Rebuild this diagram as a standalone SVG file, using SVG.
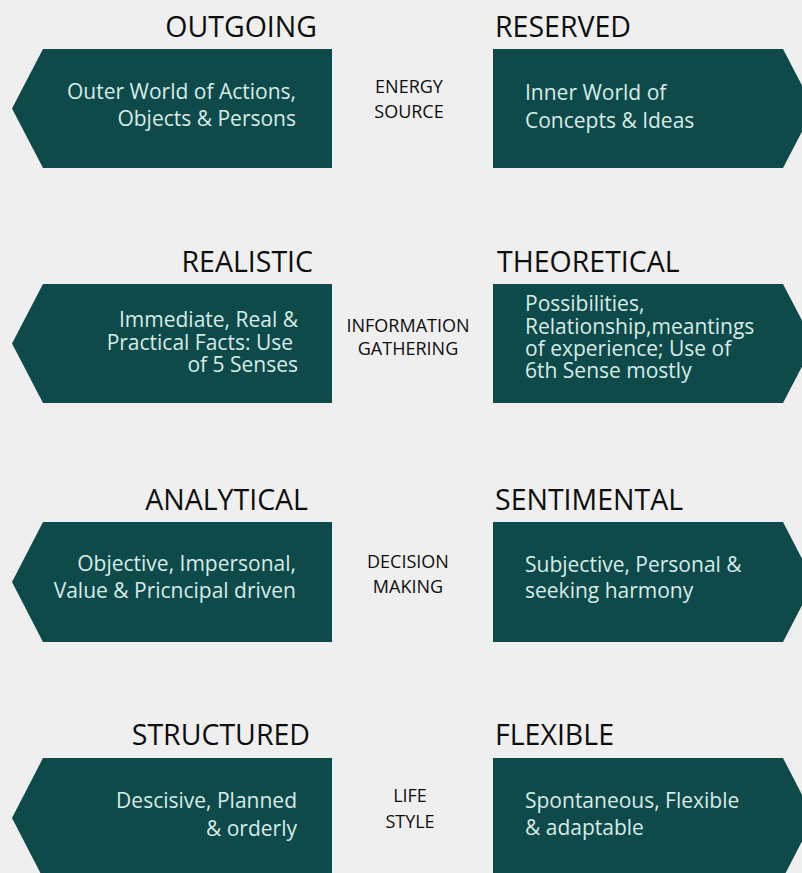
<svg xmlns="http://www.w3.org/2000/svg" width="802" height="873" viewBox="0 0 802 873">
  <style>
    .box { fill: #0e4a4a; }
    .title { font-family: "Open Sans", "Liberation Sans", sans-serif; font-size: 28.5px; fill: #0d0d0d; }
    .body { font-family: "Open Sans", "Liberation Sans", sans-serif; font-size: 21px; fill: #d8ebe6; }
    .mid { font-family: "Open Sans", "Liberation Sans", sans-serif; font-size: 18px; fill: #0d0d0d; text-anchor: middle; }
    .end { text-anchor: end; }
  </style>
  <rect x="0" y="0" width="802" height="873" fill="#efefef"/>

  <!-- Row 1 -->
  <g id="outgoing">
    <text class="title end" x="317" y="37">OUTGOING</text>
    <polygon class="box" points="43,49 332,49 332,168 43,168 12,108.5"/>
    <text class="body end" x="296" y="99">Outer World of Actions,</text>
    <text class="body end" x="296" y="126">Objects &amp; Persons</text>
  </g>
  <g id="energy-source">
    <text class="mid" x="409" y="93">ENERGY</text>
    <text class="mid" x="409" y="118">SOURCE</text>
  </g>
  <g id="reserved">
    <text class="title" x="495" y="37">RESERVED</text>
    <polygon class="box" points="493,49 783,49 814,108.5 783,168 493,168"/>
    <text class="body" x="525" y="100">Inner World of</text>
    <text class="body" x="525" y="128">Concepts &amp; Ideas</text>
  </g>

  <!-- Row 2 -->
  <g id="realistic">
    <text class="title end" x="313" y="272">REALISTIC</text>
    <polygon class="box" points="43,284 332,284 332,403 43,403 12,343.5"/>
    <text class="body end" x="298" y="327">Immediate, Real &amp;</text>
    <text class="body end" x="293" y="350">Practical Facts: Use</text>
    <text class="body end" x="298" y="372">of 5 Senses</text>
  </g>
  <g id="information-gathering">
    <text class="mid" x="408" y="332">INFORMATION</text>
    <text class="mid" x="408" y="355">GATHERING</text>
  </g>
  <g id="theoretical">
    <text class="title" x="497" y="272">THEORETICAL</text>
    <polygon class="box" points="493,284 783,284 814,343.5 783,403 493,403"/>
    <text class="body" x="525" y="311">Possibilities,</text>
    <text class="body" x="525" y="334">Relationship,meantings</text>
    <text class="body" x="525" y="356">of experience; Use of</text>
    <text class="body" x="525" y="378">6th Sense mostly</text>
  </g>

  <!-- Row 3 -->
  <g id="analytical">
    <text class="title end" x="308" y="510">ANALYTICAL</text>
    <polygon class="box" points="43,522 332,522 332,642 43,642 12,582"/>
    <text class="body end" x="296" y="571">Objective, Impersonal,</text>
    <text class="body end" x="296" y="598">Value &amp; Pricncipal driven</text>
  </g>
  <g id="decision-making">
    <text class="mid" x="408" y="568">DECISION</text>
    <text class="mid" x="408" y="593">MAKING</text>
  </g>
  <g id="sentimental">
    <text class="title" x="495" y="510">SENTIMENTAL</text>
    <polygon class="box" points="493,522 783,522 814,582 783,642 493,642"/>
    <text class="body" x="525" y="572">Subjective, Personal &amp;</text>
    <text class="body" x="525" y="598">seeking harmony</text>
  </g>

  <!-- Row 4 -->
  <g id="structured">
    <text class="title end" x="310" y="745">STRUCTURED</text>
    <polygon class="box" points="43,758 332,758 332,878 43,878 12,818"/>
    <text class="body end" x="297" y="808">Descisive, Planned</text>
    <text class="body end" x="297" y="836">&amp; orderly</text>
  </g>
  <g id="life-style">
    <text class="mid" x="410" y="802">LIFE</text>
    <text class="mid" x="410" y="828">STYLE</text>
  </g>
  <g id="flexible">
    <text class="title" x="495" y="745">FLEXIBLE</text>
    <polygon class="box" points="493,758 783,758 814,818 783,878 493,878"/>
    <text class="body" x="525" y="808">Spontaneous, Flexible</text>
    <text class="body" x="525" y="835">&amp; adaptable</text>
  </g>
</svg>
